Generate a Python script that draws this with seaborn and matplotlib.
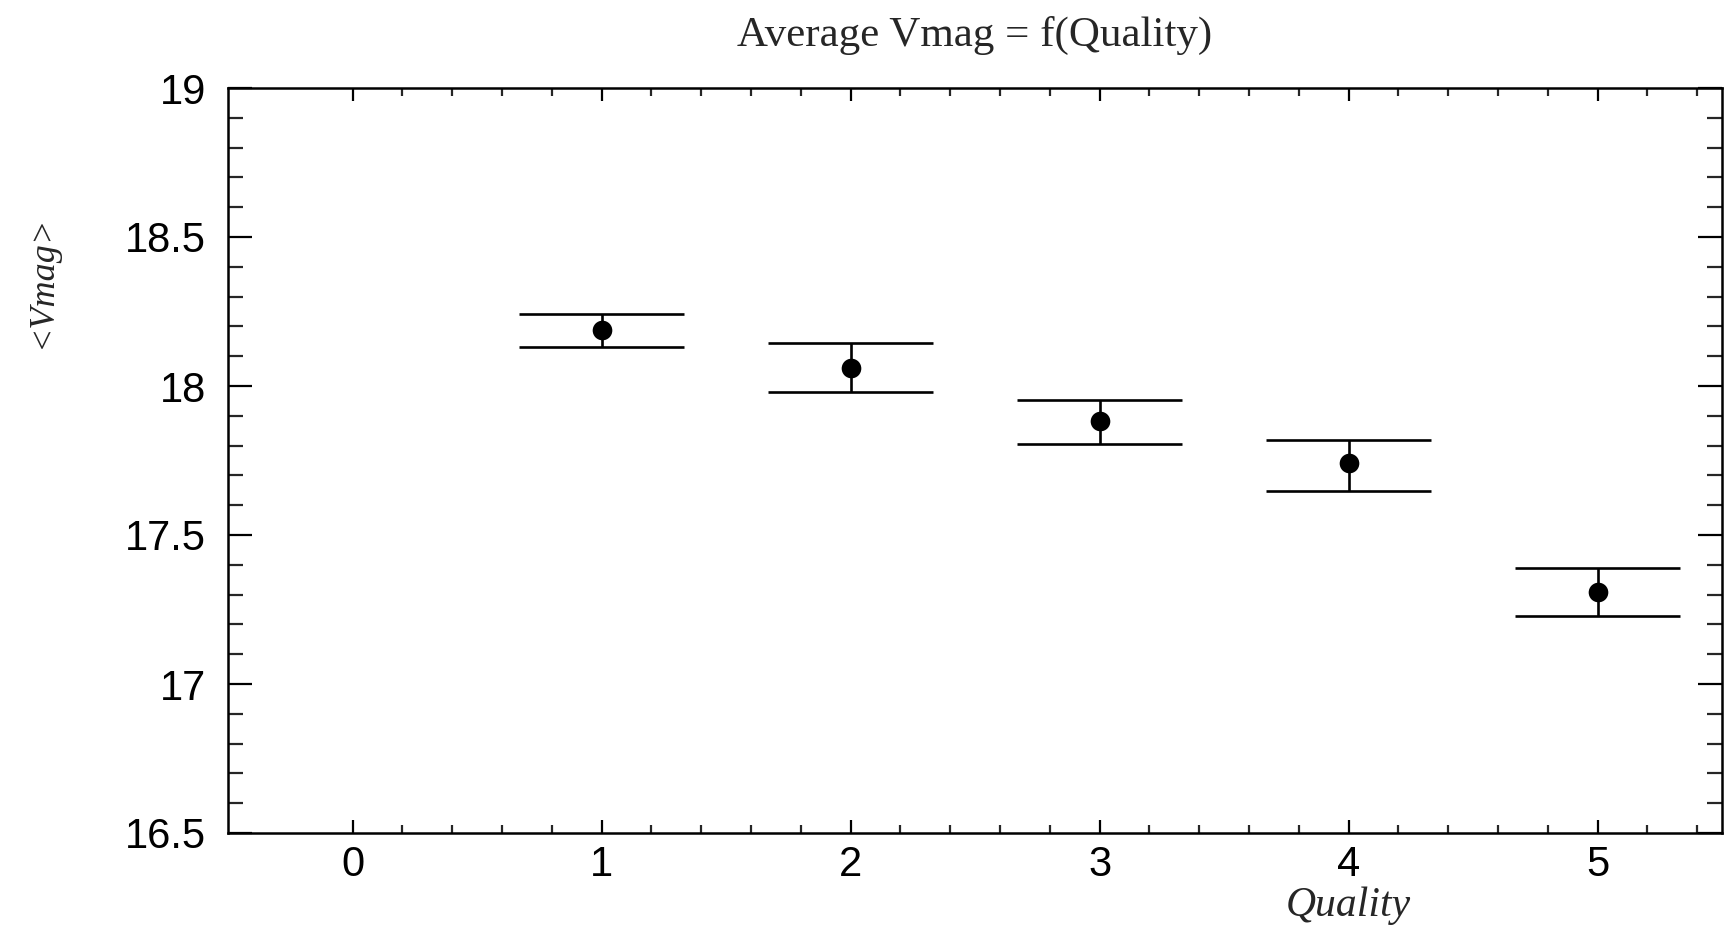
import numpy as np
import pandas as pd
import matplotlib
matplotlib.use("Agg")
import matplotlib.pyplot as plt
from matplotlib.ticker import FixedLocator, MultipleLocator
import seaborn as sns

# ---- data ----
quality = [1, 2, 3, 4, 5]
vmag_mean = [18.188, 18.062, 17.881, 17.740, 17.308]
vmag_low = [18.132, 17.980, 17.807, 17.648, 17.227]
vmag_high = [18.243, 18.143, 17.954, 17.818, 17.389]
cap_halfwidth = 0.33
x_major = [0, 1, 2, 3, 4, 5]
y_major = [16.5, 17, 17.5, 18, 18.5, 19]
y_labels = ["16.5", "17", "17.5", "18", "18.5", "19"]

df = pd.DataFrame({"Quality": quality, "Vmag": vmag_mean,
                   "low": vmag_low, "high": vmag_high})

sns.set_theme(style="ticks")
plt.rcParams["font.family"] = ["Liberation Sans", "DejaVu Sans"]

fig = plt.figure(figsize=(17.26, 9.25), dpi=100)
ax = fig.add_axes([228/1726, 1-833/925, (1722-228)/1726, (833-88)/925])

# error bars: horizontal caps + vertical line
ax.hlines(df["high"], df["Quality"] - cap_halfwidth, df["Quality"] + cap_halfwidth,
          color="black", lw=1.9, zorder=2)
ax.hlines(df["low"], df["Quality"] - cap_halfwidth, df["Quality"] + cap_halfwidth,
          color="black", lw=1.9, zorder=2)
ax.vlines(df["Quality"], df["low"], df["high"], color="black", lw=1.9, zorder=2)

sns.scatterplot(data=df, x="Quality", y="Vmag", ax=ax, color="black",
                s=200, edgecolor="black", linewidth=0, zorder=3, legend=False)

ax.set_xlim(-0.5, 5.5)
ax.set_ylim(16.5, 19)
ax.xaxis.set_major_locator(FixedLocator(x_major))
minor_x = [round(0.2 * i, 1) for i in range(1, 28) if (i % 5) != 0]
ax.xaxis.set_minor_locator(FixedLocator(minor_x))
ax.yaxis.set_major_locator(FixedLocator(y_major))
ax.yaxis.set_minor_locator(MultipleLocator(0.1))
ax.set_yticklabels(y_labels)
ax.set_xticklabels([str(v) for v in x_major])

ax.set_xlabel("")
ax.set_ylabel("")

for sp in ax.spines.values():
    sp.set_visible(True)
    sp.set_linewidth(1.8)
    sp.set_color("black")

ax.tick_params(axis="x", which="major", direction="in", length=9.5, width=1.6,
               top=True, bottom=True, labelsize=30, pad=9, colors="black")
ax.tick_params(axis="x", which="minor", direction="in", length=5.5, width=1.6,
               top=True, bottom=True)
ax.tick_params(axis="y", which="major", direction="in", length=17, width=1.6,
               left=True, right=True, labelsize=30, pad=16, colors="black")
ax.tick_params(axis="y", which="minor", direction="in", length=10.5, width=1.6,
               left=True, right=True)

fig.text(975/1726, 1-35/925, "Average Vmag = f(Quality)", ha="center", va="center",
         fontsize=31, family=["Liberation Serif", "DejaVu Serif"])
fig.text(1411/1726, 1-906/925, "Quality", ha="right", va="center",
         fontsize=30, style="italic", family=["Liberation Serif", "DejaVu Serif"])
fig.text(42/1726, 1-281/925, "<Vmag>", ha="center", va="center", rotation=90,
         fontsize=26, style="italic", family=["Liberation Serif", "DejaVu Serif"])

fig.savefig("out.png", dpi=100, facecolor="white")
